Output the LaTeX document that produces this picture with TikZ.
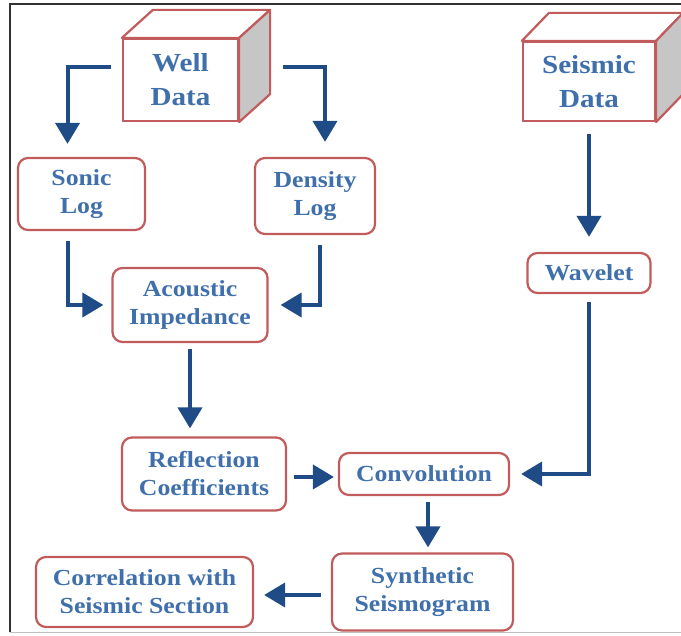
\documentclass[tikz,border=0pt]{standalone}
\usepackage{fontspec}
\setmainfont{Liberation Serif}[FakeStretch=1.12]
\usepackage{tikz}
\usetikzlibrary{positioning,arrows.meta,calc}
\definecolor{textblue}{HTML}{4070AC}
\definecolor{arrowblue}{HTML}{1F4C86}
\definecolor{boxred}{HTML}{C25B5B}
\definecolor{sidegray}{HTML}{C6C6C6}
\tikzset{
  flowbox/.style={draw=boxred, line width=2.2pt, rounded corners=10pt, fill=white, align=center, inner sep=0pt, text=textblue, font=\bfseries\fontsize{23}{28}\selectfont},
  cubeface/.style={draw=boxred, line width=2.2pt, fill=white, align=center, inner sep=0pt, text=textblue, font=\bfseries\fontsize{26}{34}\selectfont},
  cubeedge/.style={draw=boxred, line width=2.2pt, line join=round},
  arrow/.style={draw=arrowblue, line width=4pt, -{Triangle[width=24pt,length=21pt]}}
}

\begin{document}
\begin{tikzpicture}[x=1pt, y=-1pt]
  \useasboundingbox (0,0) rectangle (681,636);
  \draw[black!80, line width=1.5pt] (690,4) -- (10,4) -- (10,632);
  \draw[black!25, line width=1pt] (10,632) -- (690,632);

  % data cubes
  \node[cubeface, minimum width=115pt, minimum height=82pt] (well) at (180.5,80) {Well\\Data};
  \draw[cubeedge, fill=white] (well.north west) -- ++(31,-28) -- ($(well.north east)+(31,-28)$) -- (well.north east) -- cycle;
  \draw[cubeedge, fill=sidegray] (well.north east) -- ++(31,-28) -- ($(well.south east)+(31,-28)$) -- (well.south east) -- cycle;

  \node[cubeface, minimum width=132pt, minimum height=79pt] (seismic) at (589,81.5) {Seismic\\Data};
  \draw[cubeedge, fill=white] (seismic.north west) -- ++(27,-28) -- ($(seismic.north east)+(27,-28)$) -- (seismic.north east) -- cycle;
  \draw[cubeedge, fill=sidegray] (seismic.north east) -- ++(27,-28) -- ($(seismic.south east)+(27,-28)$) -- (seismic.south east) -- cycle;

  % processing steps
  \node[flowbox, minimum width=127pt, minimum height=72pt] (sonic) at (81.5,194) {Sonic\\Log};
  \node[flowbox, minimum width=120pt, minimum height=76pt] (density) at (315,196) {Density\\Log};
  \node[flowbox, minimum width=155pt, minimum height=74pt] (acoustic) at (190,305) {Acoustic\\Impedance};
  \node[flowbox, minimum width=123pt, minimum height=40pt] (wavelet) at (589,273) {Wavelet};
  \node[flowbox, minimum width=164pt, minimum height=73pt] (reflection) at (204,474) {Reflection\\Coefficients};
  \node[flowbox, minimum width=170pt, minimum height=42pt] (convolution) at (424,474) {Convolution};
  \node[flowbox, minimum width=181pt, minimum height=77pt] (synthetic) at (422.5,592) {Synthetic\\Seismogram};
  \node[flowbox, minimum width=217pt, minimum height=70pt] (correlation) at (144.5,592) {Correlation with\\Seismic Section};

  % connectors
  \draw[arrow] ([shift={(-11,-13)}]well.west) -| ([shift={(-14,-13)}]sonic.north);
  \draw[arrow] ([shift={(44,-13)}]well.east) -| ([shift={(10,-15)}]density.north);
  \draw[arrow] ([shift={(0,12)}]seismic.south) -- ([shift={(0,-15)}]wavelet.north);
  \draw[arrow] ([shift={(-14,10)}]sonic.south) |- ([shift={(-8,0)}]acoustic.west);
  \draw[arrow] ([shift={(5,10)}]density.south) |- ([shift={(12,0)}]acoustic.east);
  \draw[arrow] ([shift={(0,6)}]acoustic.south) -- ([shift={(-14,-8)}]reflection.north);
  \draw[arrow] ([shift={(7,3)}]reflection.east) -- ([shift={(-4,3)}]convolution.west);
  \draw[arrow] ([shift={(0,8)}]wavelet.south) |- ([shift={(11,0)}]convolution.east);
  \draw[arrow] ([shift={(4,6)}]convolution.south) -- ([shift={(5.5,-5)}]synthetic.north);
  \draw[arrow] ([shift={(-10,3)}]synthetic.west) -- ([shift={(10,3)}]correlation.east);
\end{tikzpicture}
\end{document}
